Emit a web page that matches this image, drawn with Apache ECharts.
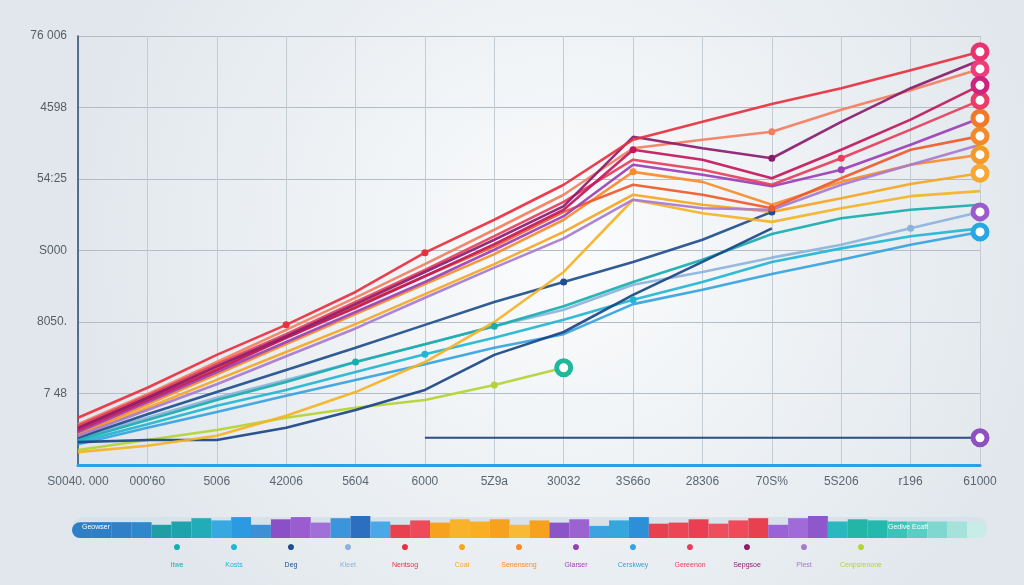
<!DOCTYPE html>
<html><head><meta charset="utf-8">
<script src="https://cdn.jsdelivr.net/npm/echarts@6/dist/echarts.min.js"></script>
<style>html,body{margin:0;padding:0;background:#eef2f5}#c{width:1024px;height:585px}</style>
</head><body><div id="c"></div>
<script>
// ---- tick labels ----
const xLabels = ['S0040. 000', "000'60", '5006', '42006', '5604', '6000', '5Z9a', '30032', '3S66o', '28306', '70S%', '5S206', 'r196', '61000'];
const yLabels = ['', '7 48', '8050.', 'S000', '54:25', '4598', '76 006'];

// ---- series values ----
const nentsog    = [0.66, 1.08, 1.54, 1.96, 2.42, 2.97, 3.43, 3.92, 4.55, 4.80, 5.05, 5.27, 5.52, 5.78];
const sepgsoe    = [0.52, 0.94, 1.38, 1.80, 2.25, 2.70, 3.15, 3.62, 4.59, 4.43, 4.29, 4.80, 5.27, 5.66];
const ruvale     = [0.49, 0.91, 1.33, 1.78, 2.20, 2.64, 3.09, 3.57, 4.41, 4.27, 4.01, 4.41, 4.83, 5.31];
const gereenon   = [0.55, 0.97, 1.41, 1.83, 2.28, 2.73, 3.20, 3.68, 4.27, 4.13, 3.92, 4.29, 4.69, 5.10];
const salmo      = [0.57, 0.99, 1.44, 1.89, 2.34, 2.81, 3.29, 3.78, 4.43, 4.55, 4.66, 4.97, 5.24, 5.54];
const glarser    = [0.46, 0.88, 1.30, 1.72, 2.14, 2.56, 3.01, 3.48, 4.20, 4.06, 3.90, 4.13, 4.48, 4.85];
const orvane     = [0.52, 0.94, 1.36, 1.78, 2.22, 2.64, 3.06, 3.54, 3.92, 3.78, 3.59, 4.01, 4.41, 4.60];
const senenseng  = [0.43, 0.85, 1.27, 1.69, 2.11, 2.53, 2.95, 3.43, 4.10, 3.96, 3.64, 3.96, 4.20, 4.34];
const coal       = [0.41, 0.80, 1.19, 1.58, 1.97, 2.39, 2.81, 3.26, 3.78, 3.64, 3.54, 3.73, 3.93, 4.08];
const goldie     = [0.18, 0.27, 0.41, 0.69, 1.02, 1.44, 2.00, 2.70, 3.71, 3.52, 3.40, 3.59, 3.76, 3.83];
const plest      = [0.41, 0.77, 1.13, 1.52, 1.91, 2.34, 2.76, 3.17, 3.71, 3.59, 3.57, 3.92, 4.20, 4.48];
const deg        = [0.38, 0.71, 1.02, 1.33, 1.64, 1.96, 2.28, 2.56, 2.84, 3.15, 3.54, null, null, null];
const navlow     = [0.32, 0.35, 0.35, 0.52, 0.77, 1.05, 1.54, 1.86, 2.38, 2.84, 3.31, null, null, null];
const itwe       = [0.35, 0.63, 0.91, 1.16, 1.44, 1.69, 1.94, 2.22, 2.56, 2.87, 3.23, 3.45, 3.57, 3.64];
const kosts      = [0.32, 0.57, 0.83, 1.05, 1.30, 1.55, 1.78, 2.03, 2.31, 2.56, 2.84, 3.03, 3.20, 3.31];
const kleet      = [0.38, 0.66, 0.94, 1.19, 1.44, 1.69, 1.94, 2.17, 2.52, 2.70, 2.90, 3.08, 3.31, 3.54];
const cerskwey   = [0.29, 0.52, 0.74, 0.97, 1.19, 1.41, 1.64, 1.83, 2.25, 2.45, 2.67, 2.87, 3.08, 3.26];
const cenpsrenone= [0.21, 0.35, 0.49, 0.66, 0.80, 0.91, 1.12, 1.36, null, null, null, null, null, null];
const baseline   = [null, null, null, null, null, 0.38, 0.38, 0.38, 0.38, 0.38, 0.38, 0.38, 0.38, 0.38];

const legendNames = ['Itwe', 'Kosts', 'Deg', 'Kleet', 'Nentsog', 'Coal', 'Senenseng', 'Glarser', 'Cerskwey', 'Gereenon', 'Sepgsoe', 'Plest', 'Cenpsrenone'];

// ---- bottom band values ----
const bandValues = [0.72,0.72,0.72,0.72,0.6,0.75,0.9,0.8,0.95,0.6,0.85,0.95,0.7,0.9,1.0,0.75,0.6,0.8,0.7,0.85,0.75,0.85,0.6,0.8,0.7,0.85,0.55,0.8,0.95,0.65,0.7,0.85,0.65,0.8,0.9,0.6,0.9,1.0,0.75,0.85,0.8,0.75,0.75,0.75,0.75,0.72];
const bandColors = ['#2f7fc6','#2f7fc6','#2f80c8','#3088cc','#1f9ea6','#1ea3ad','#22acb8','#37a8e0','#2c9ae0','#3d8fd6','#8b4fc8','#9b5cd0','#a070d8','#3b95dc','#2c6fc0','#4aa8e8','#e8404e','#ee4a5a','#f6a21e','#f7b32a','#f9ae24','#f6a21e','#f8b935','#f6a21e','#8b55c8','#9b62d0','#3ba4e0','#35a7dd','#2c8fd8','#e8404e','#ec4556','#ea3f52','#ef4d5d','#ee4a5a','#e8404e','#9a62d4','#a06ad8','#8e57cc','#2ab8c0','#23b5a5','#25b8ac','#3cc3b8','#5ccdc2','#7fd8cf','#a5e2dc','#c8ece8'];

// ---- series styling ----
const lineDefs = [
  {name:'Cenpsrenone', data:cenpsrenone, color:'#b5d334', ring:'#1fb89a', dots:[6]},
  {name:'Floor', data:baseline, color:'#1d3f7a', ring:'#8e4fc0', dots:[], w:2},
  {name:'Cerskwey', data:cerskwey, color:'#36a3e0', ring:'#27a8e2', dots:[]},
  {name:'Kleet', data:kleet, color:'#8db3dc', ring:'#9a5ccc', dots:[12]},
  {name:'Kosts', data:kosts, color:'#22b5d4', dots:[5,8]},
  {name:'Itwe', data:itwe, color:'#17aeb0', dots:[4,6]},
  {name:'Navlow', data:navlow, color:'#1b4585', dots:[]},
  {name:'Deg', data:deg, color:'#1f4e8e', dots:[7,10]},
  {name:'Goldie', data:goldie, color:'#f5b324', dots:[]},
  {name:'Coal', data:coal, color:'#f6a623', ring:'#f6a833', dots:[]},
  {name:'Senenseng', data:senenseng, color:'#f78b2b', ring:'#f59a2a', dots:[8]},
  {name:'Orvane', data:orvane, color:'#ef5a2a', ring:'#f28a2c', dots:[10]},
  {name:'Plest', data:plest, color:'#a77bd0', dots:[]},
  {name:'Glarser', data:glarser, color:'#9b3fb5', ring:'#f07a2a', dots:[11]},
  {name:'Salmo', data:salmo, color:'#f47e5e', ring:'#ea3f78', dots:[10]},
  {name:'Gereenon', data:gereenon, color:'#e63f5c', ring:'#e83e6a', dots:[11]},
  {name:'Ruvale', data:ruvale, color:'#c2185b', ring:'#d0237e', dots:[8]},
  {name:'Sepgsoe', data:sepgsoe, color:'#8a1c6e', dots:[10]},
  {name:'Nentsog', data:nentsog, color:'#e8303f', ring:'#e8336f', dots:[3,5]}
];

const colorOf = {};
lineDefs.forEach(d => colorOf[d.name] = d.color);

const lineSeries = lineDefs.map(d => {
  let last = -1;
  d.data.forEach((v, i) => { if (v != null) last = i; });
  return {
    type: 'line', name: d.name, xAxisIndex: 0, yAxisIndex: 0,
    showSymbol: true, showAllSymbol: true, symbol: 'none',
    lineStyle: {color: d.color, width: d.w || 2.6, opacity: 0.92},
    itemStyle: {color: d.color},
    emphasis: {disabled: true},
    data: d.data.map((v, i) => {
      if (v == null) return null;
      if (d.ring && i === last) return {value: v, symbol: 'circle', symbolSize: 14, itemStyle: {color: '#ffffff', borderColor: d.ring, borderWidth: 5}};
      if (d.dots.includes(i)) return {value: v, symbol: 'circle', symbolSize: 7, itemStyle: {color: d.color}};
      return {value: v, symbol: 'none'};
    })
  };
});

const rich = {};
legendNames.forEach((n, i) => {
  rich['d' + i] = {color: colorOf[n], fontSize: 14, width: 52, align: 'center', lineHeight: 16};
  rich['t' + i] = {color: colorOf[n], fontSize: 7, width: 52, align: 'center', lineHeight: 20, fontFamily: 'Liberation Sans'};
});

const chart = echarts.init(document.getElementById('c'), null, {renderer: 'canvas'});
chart.setOption({
  animation: false,
  backgroundColor: {type: 'radial', x: 0.55, y: 0.42, r: 0.85, colorStops: [{offset: 0, color: '#fbfcfd'}, {offset: 1, color: '#e1e7ec'}]},
  textStyle: {fontFamily: 'Liberation Sans, Arial, sans-serif'},
  grid: [
    {left: 78, right: 44, top: 36, bottom: 120},
    {left: 72, right: 37, top: 516, height: 22}
  ],
  xAxis: [
    {type: 'category', gridIndex: 0, data: xLabels, boundaryGap: false,
     axisLine: {lineStyle: {color: '#2e9fe0', width: 3}},
     axisTick: {show: false},
     axisLabel: {color: '#5a6570', fontSize: 12, margin: 11, interval: 0},
     splitLine: {show: true, interval: 0, lineStyle: {color: '#c3cbd3', width: 1}}},
    {type: 'category', gridIndex: 1, data: bandValues.map((_, i) => i), show: false}
  ],
  yAxis: [
    {type: 'value', gridIndex: 0, min: 0, max: 6, interval: 1,
     axisLine: {show: true, lineStyle: {color: '#2b4a78', width: 1.5}},
     axisTick: {show: false},
     axisLabel: {color: '#555e68', fontSize: 12, margin: 11, formatter: v => yLabels[Math.round(v)] || ''},
     splitLine: {show: true, lineStyle: {color: '#b3bdc7', width: 1}}},
    {type: 'value', gridIndex: 1, min: 0, max: 1, show: false}
  ],
  legend: {
    data: legendNames, selectedMode: false, left: 146, top: 540, padding: 0,
    itemWidth: 0, itemHeight: 0, itemGap: 0, icon: 'circle',
    formatter: name => { const i = legendNames.indexOf(name); return '{d' + i + '|●}\n{t' + i + '|' + name + '}'; },
    textStyle: {rich: rich}
  },
  graphic: [
    {type: 'rect', shape: {x: 72, y: 517, width: 915, height: 21, r: 10.5}, style: {fill: '#d8e2ea'}, z: -1, silent: true},
    {type: 'text', left: 82, top: 524, z: 100, style: {text: 'Geowser', fill: '#ffffff', fontSize: 7, fontFamily: 'Liberation Sans'}},
    {type: 'text', left: 888, top: 524, z: 100, style: {text: 'Gedive Ecaft', fill: '#ffffff', fontSize: 7, fontFamily: 'Liberation Sans'}}
  ],
  series: [
    ...lineSeries,
    {type: 'bar', xAxisIndex: 1, yAxisIndex: 1, barCategoryGap: 0, silent: true,
     data: bandValues.map((v, i) => ({value: v, itemStyle: {color: bandColors[i], borderRadius: i === 0 ? [8, 0, 0, 8] : (i === bandValues.length - 1 ? [0, 8, 8, 0] : 0)}}))}
  ]
});
</script></body></html>
